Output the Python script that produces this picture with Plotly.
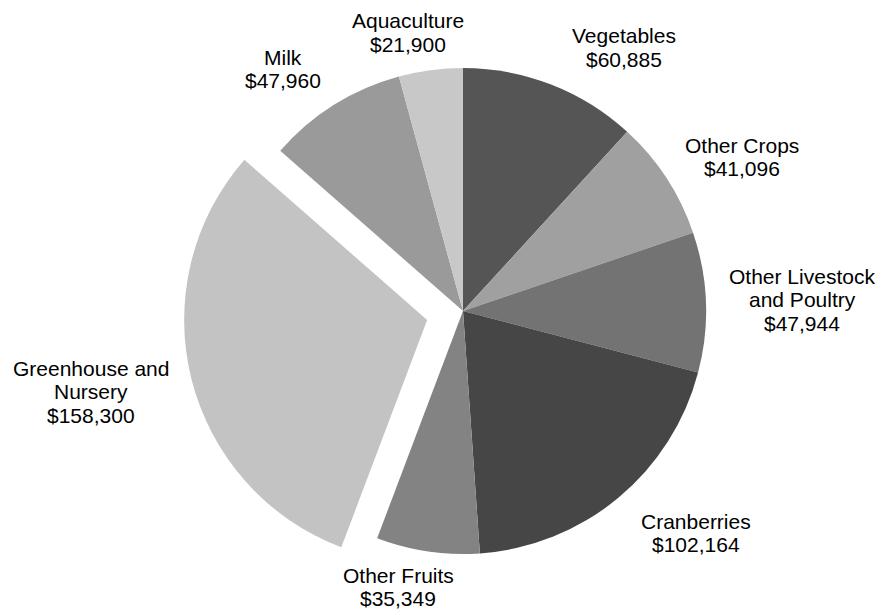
import plotly.graph_objects as go

categories = ["Vegetables", "Other Crops", "Other Livestock and Poultry", "Cranberries",
              "Other Fruits", "Greenhouse and Nursery", "Milk", "Aquaculture"]
values = [60885, 41096, 47944, 102164, 35349, 158300, 47960, 21900]
label_lines = [["Vegetables"], ["Other Crops"], ["Other Livestock", "and Poultry"], ["Cranberries"],
               ["Other Fruits"], ["Greenhouse and", "Nursery"], ["Milk"], ["Aquaculture"]]
colors = ["#555555", "#a0a0a0", "#737373", "#464646", "#838383", "#c3c3c3", "#9a9a9a", "#c8c8c8"]
pulls = [0, 0, 0, 0, 0, 0.152, 0, 0]

# label anchor positions in screen pixels (center x, first line center y)
label_pos = [(624, 36), (742, 145), (802, 276), (696, 521), (398, 575), (91, 368), (283, 57), (408, 21)]

W, H = 883, 609
OFF = 8  # page body margin
LINE = 23.5
CX, CY, R, PULL = 463, 311, 243, 0.152
half = R * (1 + PULL)

def px2x(px):
    return (px - OFF) / W

def py2y(py):
    return 1 - (py - OFF) / H

fig = go.Figure(go.Pie(
    labels=categories, values=values, sort=False, direction="clockwise", rotation=0,
    marker=dict(colors=colors, line=dict(width=0)), pull=pulls,
    textinfo="none", hoverinfo="label+value", showlegend=False,
    domain=dict(x=[px2x(CX - half - 40), px2x(CX + half + 40)],
                y=[py2y(CY + half), py2y(CY - half)]),
))

anns = []
for lines, v, (px, py) in zip(label_lines, values, label_pos):
    all_lines = lines + ["${:,}".format(v)]
    for i, t in enumerate(all_lines):
        anns.append(dict(text=t, x=px2x(px), y=py2y(py + i * LINE), xref="paper", yref="paper",
                         xanchor="center", yanchor="middle", showarrow=False,
                         font=dict(family="Liberation Sans, Arial, sans-serif", size=21, color="#000000")))

fig.update_layout(width=W, height=H, margin=dict(l=0, r=0, t=0, b=0),
                  paper_bgcolor="white", plot_bgcolor="white", annotations=anns)
fig.write_html("out.html")
